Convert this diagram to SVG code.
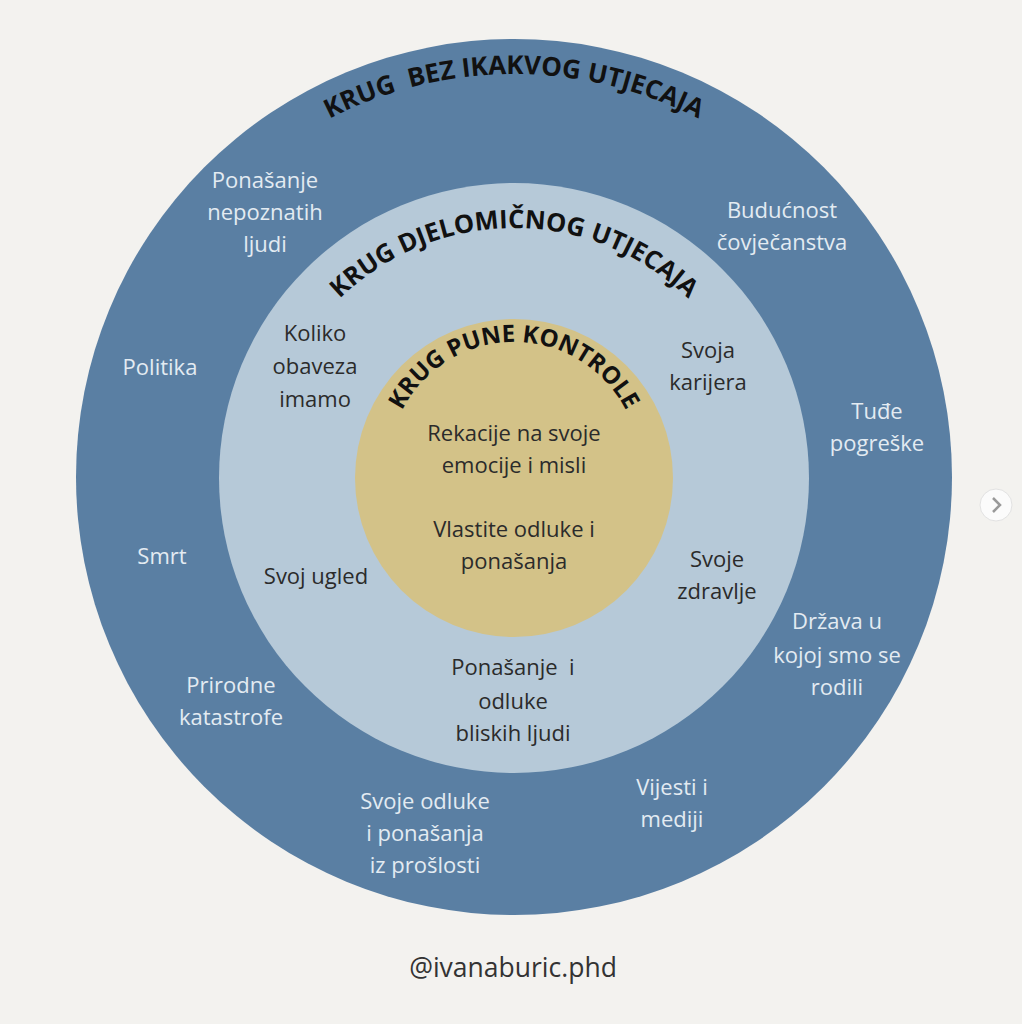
<svg xmlns="http://www.w3.org/2000/svg" width="1022" height="1024" viewBox="0 0 1022 1024">
<defs>
<style>
text{white-space:pre}
.lo{font-family:"Open Sans","Liberation Sans",sans-serif;font-size:22px;fill:#e3ebf2;text-anchor:middle}
.ld{font-family:"Open Sans","Liberation Sans",sans-serif;font-size:22px;fill:#2b2b2b;text-anchor:middle}
.t{font-family:"Open Sans","Liberation Sans",sans-serif;font-weight:bold;font-size:25px;fill:#111;text-anchor:middle}
</style>
<path id="a1" d="M 111,477 A 403,403 0 0 1 917,477"/>
<path id="a2" d="M 264,478 A 250,250 0 0 1 764,478"/>
<path id="a3" d="M 388,468 A 126,126 0 0 1 640,468"/>
</defs>
<rect width="1022" height="1024" fill="#f3f2ef"/>
<g id="outer">
<circle cx="514" cy="477" r="438" fill="#5a7fa3"/>
<text class="t" style="font-size:26px"><textPath href="#a1" startOffset="50%">KRUG  BEZ IKAKVOG UTJECAJA</textPath></text>
<text class="lo"><tspan x="265" y="188">Ponašanje</tspan><tspan x="265" y="220">nepoznatih</tspan><tspan x="265" y="252">ljudi</tspan></text>
<text class="lo"><tspan x="782" y="218">Budućnost</tspan><tspan x="782" y="250">čovječanstva</tspan></text>
<text class="lo" x="160" y="375">Politika</text>
<text class="lo"><tspan x="877" y="419">Tuđe</tspan><tspan x="877" y="451">pogreške</tspan></text>
<text class="lo" x="162" y="564">Smrt</text>
<text class="lo"><tspan x="837" y="629">Država u</tspan><tspan x="837" y="663">kojoj smo se</tspan><tspan x="837" y="695">rodili</tspan></text>
<text class="lo"><tspan x="231" y="693">Prirodne</tspan><tspan x="231" y="725">katastrofe</tspan></text>
<text class="lo"><tspan x="672" y="795">Vijesti i</tspan><tspan x="672" y="827">mediji</tspan></text>
<text class="lo"><tspan x="425" y="809">Svoje odluke</tspan><tspan x="425" y="841">i ponašanja</tspan><tspan x="425" y="873">iz prošlosti</tspan></text>
</g>
<g id="middle">
<circle cx="514" cy="478" r="295" fill="#b6c9d8"/>
<text class="t" style="font-size:25.5px"><textPath href="#a2" startOffset="50%">KRUG DJELOMIČNOG UTJECAJA</textPath></text>
<text class="ld"><tspan x="315" y="341">Koliko</tspan><tspan x="315" y="374">obaveza</tspan><tspan x="315" y="407">imamo</tspan></text>
<text class="ld"><tspan x="708" y="358">Svoja</tspan><tspan x="708" y="390">karijera</tspan></text>
<text class="ld" x="316" y="584">Svoj ugled</text>
<text class="ld"><tspan x="717" y="567">Svoje</tspan><tspan x="717" y="599">zdravlje</tspan></text>
<text class="ld"><tspan x="513" y="675">Ponašanje  i</tspan><tspan x="513" y="709">odluke</tspan><tspan x="513" y="741">bliskih ljudi</tspan></text>
</g>
<g id="inner">
<circle cx="514" cy="478" r="159" fill="#d3c288"/>
<text class="t" style="font-size:24px"><textPath href="#a3" startOffset="50%">KRUG PUNE KONTROLE</textPath></text>
<text class="ld"><tspan x="514" y="441">Rekacije na svoje</tspan><tspan x="514" y="473">emocije i misli</tspan></text>
<text class="ld"><tspan x="514" y="537">Vlastite odluke i</tspan><tspan x="514" y="569">ponašanja</tspan></text>
</g>
<g id="footer">
<text x="513" y="977" style="font-family:'Open Sans','Liberation Sans',sans-serif;font-size:26.5px;fill:#333;text-anchor:middle">@ivanaburic.phd</text>
</g>
<g id="next">
<circle cx="996" cy="505" r="16" fill="#fbfbfb" stroke="#e2e2e2" stroke-width="1"/>
<path d="M 993,498 L 1000,505 L 993,512" fill="none" stroke="#999" stroke-width="2.5"/>
</g>
</svg>
